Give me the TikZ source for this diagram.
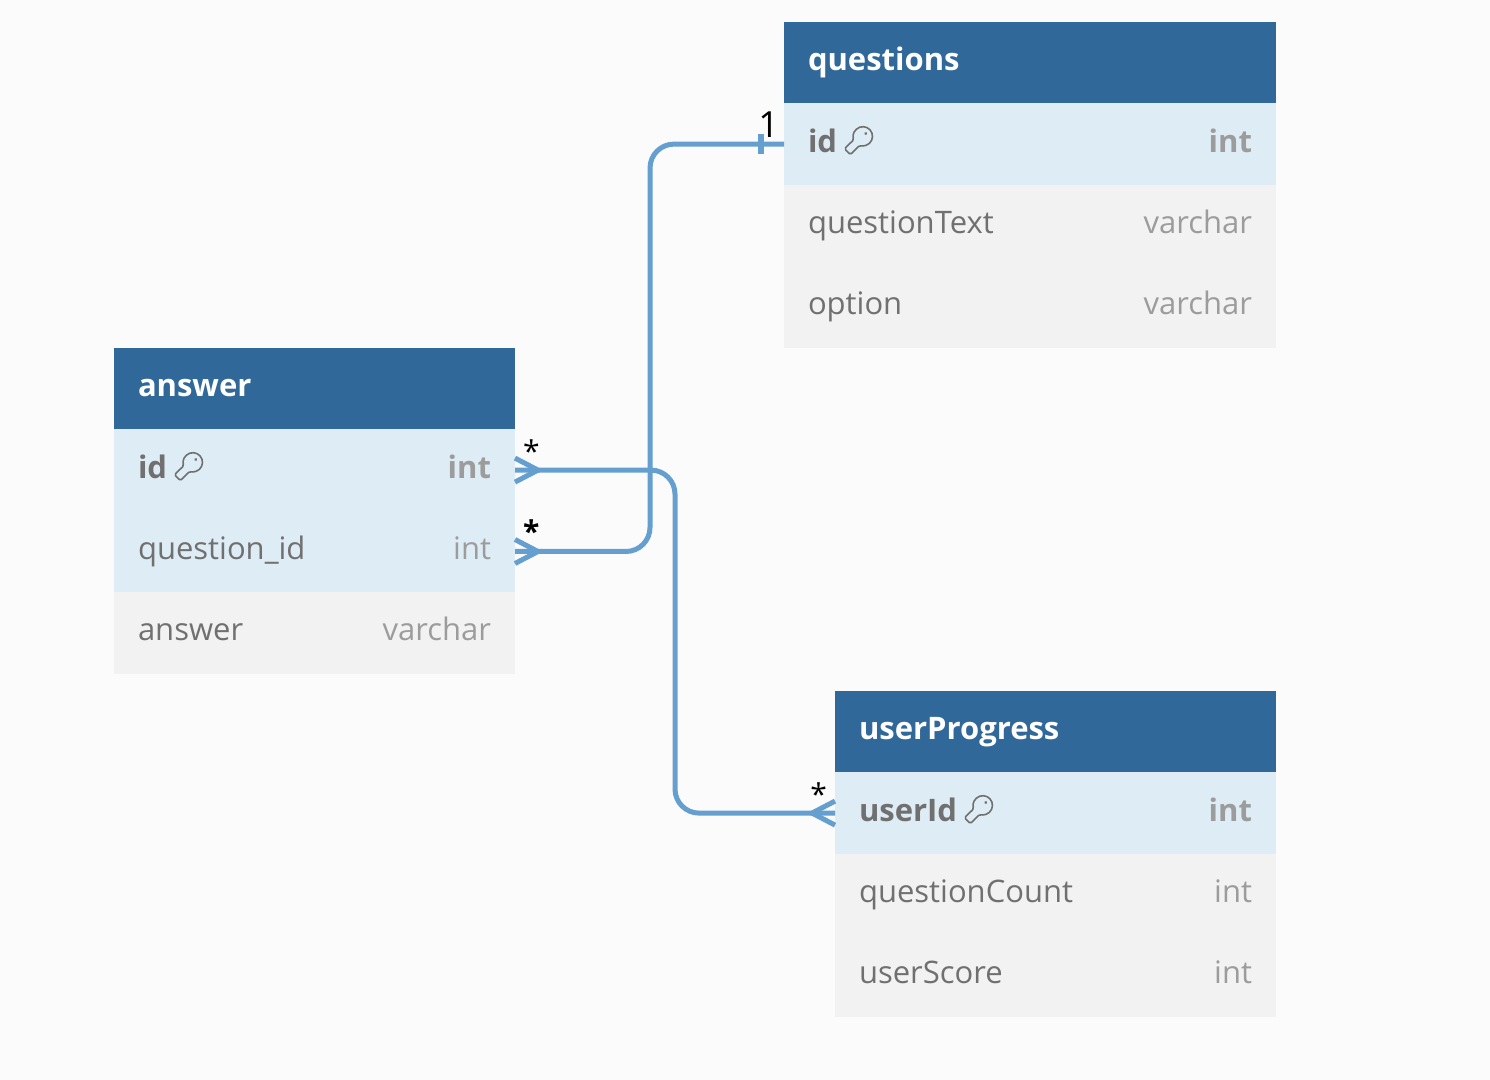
\documentclass[tikz,border=0pt]{standalone}
\usepackage{fontspec}
\setmainfont{Open Sans}
\usetikzlibrary{positioning}
\definecolor{canvas}{HTML}{FBFBFB}
\definecolor{headblue}{HTML}{31689A}
\definecolor{keyrow}{HTML}{DEEDF5}
\definecolor{plainrow}{HTML}{F2F2F2}
\definecolor{relblue}{HTML}{659FD0}
\definecolor{fieldgray}{HTML}{707070}
\definecolor{typegray}{HTML}{9C9C9C}
\begin{document}
\begin{tikzpicture}
    [
    x=.5pt, y=-.5pt,
    basic/.style={inner sep=0pt, outer sep=0pt, minimum height=40.7pt},
    head/.style={basic, fill=headblue, anchor=north west},
    pkrow/.style={basic, fill=keyrow},
    row/.style={basic, fill=plainrow},
    txt/.style={inner sep=0pt, outer sep=0pt, font=\fontsize{15.5}{20}\selectfont, text height=12pt, text depth=4pt},
    title/.style={txt, text=white, font=\fontsize{15.5}{20}\selectfont\bfseries},
    fname/.style={txt, text=fieldgray},
    fkey/.style={fname, font=\fontsize{15.5}{20}\selectfont\bfseries},
    ftype/.style={txt, text=typegray},
    ftypekey/.style={ftype, font=\fontsize{15.5}{20}\selectfont\bfseries},
    card/.style={inner sep=0pt, outer sep=0pt, text=black, font=\fontsize{15}{18}\selectfont},
    rel/.style={draw=relblue, line width=2.5pt, rounded corners=12pt},
    keyicon/.pic={
        \draw[fieldgray, line width=.8pt, rounded corners=.8pt, rotate=45]
            (3.4pt,0pt) ++(155:4.8pt) arc[start angle=155, end angle=-155, radius=4.8pt]
            -- (-7.5pt,-2.1pt) -- (-7.5pt,2.1pt) -- cycle;
        \fill[fieldgray, rotate=45] (5.4pt,0pt) circle[radius=.8pt];
    },
    crow/.pic={
        \draw[relblue, line width=2.5pt] (0pt,6pt) -- (11.5pt,0pt) -- (0pt,-6pt);
    },
    onebar/.pic={
        \draw[relblue, line width=3pt] (0pt,-5pt) -- (0pt,5pt);
    }
    ]

    \fill[canvas] (0,0) rectangle (1490,1080);

    % Tabla questions
    \node [head, minimum width=246pt] (qhead) at (784,22) {};
    \node [pkrow, minimum width=246pt, below=0pt of qhead] (qid) {};
    \node [row, minimum width=246pt, below=0pt of qid] (qtext) {};
    \node [row, minimum width=246pt, below=0pt of qtext] (qoption) {};
    \node [title, right=12pt of qhead.west] (qtitle) {questions};
    \node [fkey, right=12pt of qid.west] (qidname) {id};
    \node [fname, right=12pt of qtext.west] (qtextname) {questionText};
    \node [fname, right=12pt of qoption.west] (qoptionname) {option};
    \node [ftypekey, left=12pt of qid.east] (qidtype) {int};
    \node [ftype, left=12pt of qtext.east] (qtexttype) {varchar};
    \node [ftype, left=12pt of qoption.east] (qoptiontype) {varchar};
    \pic at ([xshift=10.5pt, yshift=1.5pt]qidname.east) {keyicon};

    % Tabla answer
    \node [head, minimum width=200.5pt] (ahead) at (114,348) {};
    \node [pkrow, minimum width=200.5pt, below=0pt of ahead] (aid) {};
    \node [pkrow, minimum width=200.5pt, below=0pt of aid] (aqid) {};
    \node [row, minimum width=200.5pt, below=0pt of aqid] (aanswer) {};
    \node [title, right=12pt of ahead.west] (atitle) {answer};
    \node [fkey, right=12pt of aid.west] (aidname) {id};
    \node [fname, right=12pt of aqid.west] (aqidname) {question\_id};
    \node [fname, right=12pt of aanswer.west] (aanswername) {answer};
    \node [ftypekey, left=12pt of aid.east] (aidtype) {int};
    \node [ftype, left=12pt of aqid.east] (aqidtype) {int};
    \node [ftype, left=12pt of aanswer.east] (aanswertype) {varchar};
    \pic at ([xshift=10.5pt, yshift=1.5pt]aidname.east) {keyicon};

    % Tabla userProgress
    \node [head, minimum width=220.5pt] (uhead) at (835,691) {};
    \node [pkrow, minimum width=220.5pt, below=0pt of uhead] (uid) {};
    \node [row, minimum width=220.5pt, below=0pt of uid] (ucount) {};
    \node [row, minimum width=220.5pt, below=0pt of ucount] (uscore) {};
    \node [title, right=12pt of uhead.west] (utitle) {userProgress};
    \node [fkey, right=12pt of uid.west] (uidname) {userId};
    \node [fname, right=12pt of ucount.west] (ucountname) {questionCount};
    \node [fname, right=12pt of uscore.west] (uscorename) {userScore};
    \node [ftypekey, left=12pt of uid.east] (uidtype) {int};
    \node [ftype, left=12pt of ucount.east] (ucounttype) {int};
    \node [ftype, left=12pt of uscore.east] (uscoretype) {int};
    \pic at ([xshift=10.5pt, yshift=1.5pt]uidname.east) {keyicon};

    % Relaciones
    \coordinate (busq) at (650,300);
    \coordinate (busu) at (675,600);
    \draw [rel] (aid.east) -- (aid.east -| busu) -- (busu |- uid.west) -- (uid.west);
    \draw [rel] (aqid.east) -- (aqid.east -| busq) -- (busq |- qid.west) -- (qid.west);
    \pic at (aid.east) {crow};
    \pic at (aqid.east) {crow};
    \pic [rotate=180] at (uid.west) {crow};
    \pic at ([xshift=-11.5pt]qid.west) {onebar};

    % Cardinalidades
    \node [card, above right=4pt and 4pt of aid.east] (cardaid) {*};
    \node [card, above right=4.5pt and 4pt of aqid.east, font=\fontsize{15}{18}\selectfont\bfseries] (cardaqid) {*};
    \node [card, above left=4pt and 4pt of uid.west] (carduid) {*};
    \node [card, above left=3.5pt and 2.5pt of qid.west, font=\fontsize{18}{20}\selectfont] (cardqid) {1};
\end{tikzpicture}
\end{document}
